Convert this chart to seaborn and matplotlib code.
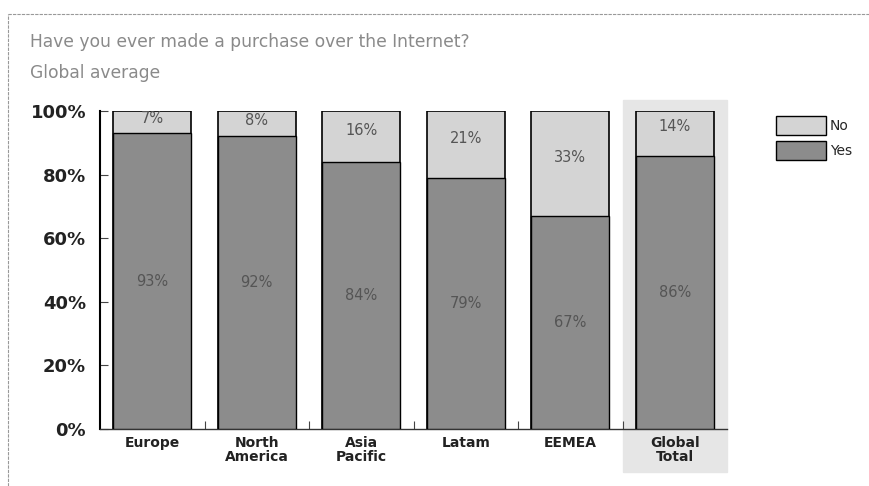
import matplotlib
matplotlib.use("Agg")
import matplotlib.pyplot as plt
import matplotlib.patches as mpatches
import seaborn as sns
import pandas as pd

regions = ["Europe", "North\nAmerica", "Asia\nPacific", "Latam", "EEMEA", "Global\nTotal"]
yes_vals = [93, 92, 84, 79, 67, 86]
no_vals = [7, 8, 16, 21, 33, 14]
y_ticks = [0, 20, 40, 60, 80, 100]
title = "Have you ever made a purchase over the Internet?"
subtitle = "Global average"

YES_C = "#8c8c8c"
NO_C = "#d4d4d4"

sns.set_theme(style="white")
plt.rcParams['font.family'] = ['DejaVu Sans']

df = pd.DataFrame({"region": regions, "yes": yes_vals, "no": no_vals})
df["total"] = df["yes"] + df["no"]

fig = plt.figure(figsize=(8.69, 4.86), dpi=100)
ax = fig.add_axes([100/869, 1 - 429/486, 627/869, 318/486])

# highlight Global Total background
ax.axvspan(4.5, 5.5, ymin=-0.135, ymax=1.035, color="#e6e6e6", zorder=0, clip_on=False)

sns.barplot(data=df, x="region", y="total", color=NO_C, edgecolor="black",
            linewidth=1.2, width=0.75, ax=ax, zorder=2, saturation=1)
sns.barplot(data=df, x="region", y="yes", color=YES_C, edgecolor="black",
            linewidth=1.0, width=0.75, ax=ax, zorder=3, saturation=1)

for i, (y, n) in enumerate(zip(yes_vals, no_vals)):
    ax.text(i, y / 2, f"{y}%", ha="center", va="center", fontsize=10.5, color="#555555", zorder=5)
    ax.text(i, y + n / 2 + (1.0 if n < 10 else 2), f"{n}%", ha="center", va="center",
            fontsize=10.5, color="#555555", zorder=5)

ax.set_xlim(-0.5, 5.5)
ax.set_ylim(0, 100)
ax.set_yticks(y_ticks)
ax.set_yticklabels([f"{t}%" for t in y_ticks], fontsize=13, fontweight="bold", color="#222222")
ax.tick_params(axis="y", direction="in", length=6, width=0.8, color="#444444", left=True, pad=10)
ax.set_xticks(range(len(regions)))
ax.set_xticklabels(regions, fontsize=10, fontweight="bold", color="#222222", linespacing=1.0)
ax.tick_params(axis="x", length=0, pad=5)
ax.set_xticks([0.5, 1.5, 2.5, 3.5, 4.5], minor=True)
ax.tick_params(axis="x", which="minor", direction="in", length=6, width=0.8, color="#444444", bottom=True)
ax.set_xlabel("")
ax.set_ylabel("")
for s in ["top", "right"]:
    ax.spines[s].set_visible(False)
ax.spines["left"].set_color("black")
ax.spines["left"].set_linewidth(1.5)
ax.spines["bottom"].set_color("#333333")
ax.spines["bottom"].set_linewidth(1.0)
ax.set_facecolor("none")

fig.text(30/869, 1 - 42/486, title, fontsize=12.3, color="#8a8a8a", va="center", ha="left")
fig.text(30/869, 1 - 73/486, subtitle, fontsize=12.3, color="#8a8a8a", va="center", ha="left")

# outer frame lines
fig.add_artist(plt.Line2D([8/869, 869/869], [1 - 14/486, 1 - 14/486], color="#999999", lw=0.8, ls=(0, (3, 1))))
fig.add_artist(plt.Line2D([8/869, 8/869], [0, 1 - 14/486], color="#999999", lw=0.8, ls=(0, (3, 1))))

handles = [mpatches.Patch(facecolor=NO_C, edgecolor="black", label="No"),
           mpatches.Patch(facecolor=YES_C, edgecolor="black", label="Yes")]
fig.legend(handles=handles, loc="upper left", bbox_to_anchor=(763/869, 1 - 104/486),
           frameon=False, fontsize=10, handlelength=3.6, handleheight=1.7,
           handletextpad=0.3, labelspacing=0.45)

fig.savefig("out.png", dpi=100)
